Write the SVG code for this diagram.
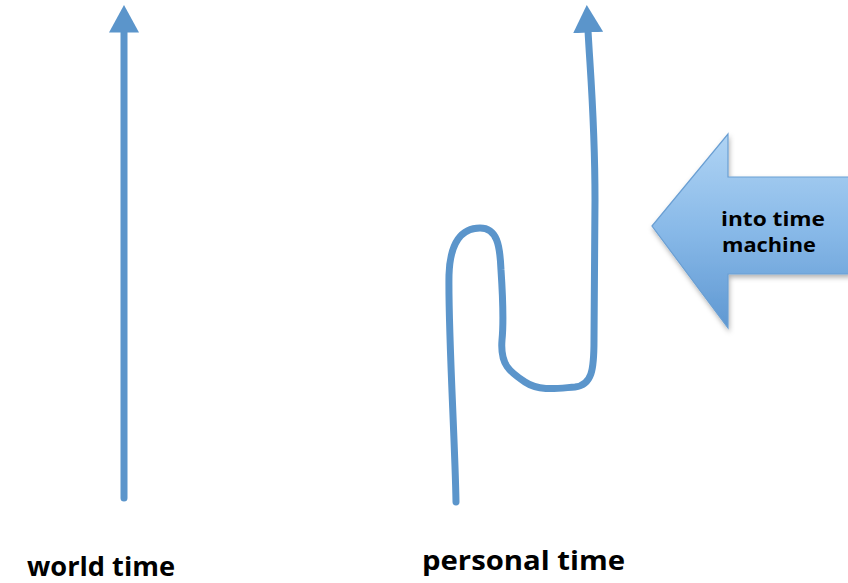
<svg xmlns="http://www.w3.org/2000/svg" width="848" height="583" viewBox="0 0 848 583">
<style>
.line{fill:none;stroke:#5b95cb;stroke-width:7;stroke-linecap:round;stroke-linejoin:round}
.lbl{font-family:"Open Sans","Liberation Sans",sans-serif;font-weight:bold;fill:#000}
</style>
<defs>
<marker id="ah" markerUnits="userSpaceOnUse" markerWidth="30" markerHeight="30" viewBox="0 0 24 24" refX="2" refY="12" orient="auto">
<path d="M0,0 L22,12 L0,24 Z" fill="#5b95cb"/>
</marker>
<linearGradient id="bg" x1="0" y1="0" x2="0" y2="1">
<stop offset="0" stop-color="#b0d4f4"/>
<stop offset="0.5" stop-color="#88b9e8"/>
<stop offset="1" stop-color="#5f98d2"/>
</linearGradient>
<filter id="sh" x="-10%" y="-10%" width="130%" height="130%">
<feDropShadow dx="1" dy="3" stdDeviation="2.5" flood-color="#000" flood-opacity="0.3"/>
</filter>
</defs>
<g id="connectors">
<path class="line" d="M124,498 L124,30" marker-end="url(#ah)"/>
<path class="line" d="M456,502 C455,440 448,330 449,275 C450,242 462,228 480,228 C497,228 500,245 501,270 C503,300 504,320 502,340 C500,365 510,372 525,382 C540,392 560,388 575,387 C592,385 594,370 594,340 L595,200 C595,120 590,70 588,30" marker-end="url(#ah)"/>
</g>
<g id="machine">
<path d="M652,226 L728,134 L728,177 L850,177 L850,274 L728,274 L728,328 Z" fill="url(#bg)" stroke="#6a9fd3" stroke-width="1.2" filter="url(#sh)"/>
<text class="lbl" x="773" y="226" font-size="20" text-anchor="middle" textLength="104" lengthAdjust="spacingAndGlyphs">into time</text>
<text class="lbl" x="769" y="252" font-size="20" text-anchor="middle" textLength="94" lengthAdjust="spacingAndGlyphs">machine</text>
</g>
<g id="world-time">
<text class="lbl" x="27" y="576" font-size="27" textLength="148" lengthAdjust="spacingAndGlyphs">world time</text>
</g>
<g id="personal-time">
<text class="lbl" x="422" y="570" font-size="27" textLength="203" lengthAdjust="spacingAndGlyphs">personal time</text>
</g>
</svg>
